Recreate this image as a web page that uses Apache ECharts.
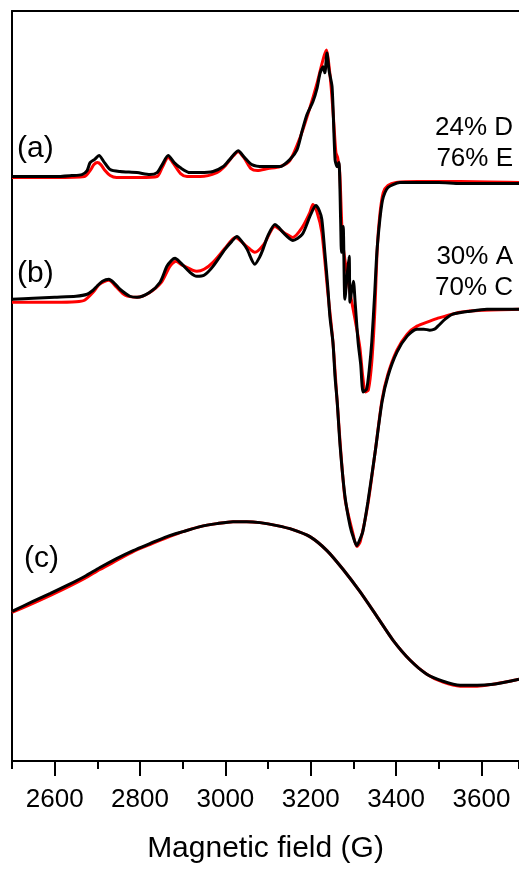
<!DOCTYPE html>
<html>
<head>
<meta charset="utf-8">
<script src="https://cdn.jsdelivr.net/npm/echarts@6/dist/echarts.min.js"></script>
<style>
html,body{margin:0;padding:0;background:#fff;}
#chart{width:519px;height:869px;}
</style>
</head>
<body>
<div id="chart"></div>
<script>
// Magnetic field axis
const fieldMin = 2500;
const fieldMax = 3688;
const tickLabels = [2600, 2800, 3000, 3200, 3400, 3600];

// Trace (a): experimental (black) and simulation (red), intensity in arbitrary units
const aExpField = [2500,2550,2600,2640,2664,2676,2683,2693,2704,2715,2730,2753,2793,2823,2840,2852,2866,2880,2894,2917,2941,2971,2995,3010,3030,3045,3062,3088,3128,3151,3168,3180,3191,3205,3215,3222,3229,3233,3238,3243,3250,3257,3262,3266,3270,3272,3276,3280,3286,3290,3292,3296,3300,3304,3311,3317,3323,3331,3337,3343,3350,3355,3362,3368,3374,3381,3393,3409,3450,3500,3550,3600,3650,3688];
const aExpVal   = [586,586,586,587,588,592,600,603,607,601,593,591,590,588,590,598,607,600,595,590,590,591,596,603,612,605,598,596,596,603,613,632,648,661,675,690,696,690,710,692,676,603,596,600,543,510,536,463,490,506,460,472,481,460,420,398,370,373,392,420,470,510,543,562,570,575,578,580,580,580,579,579,579,579];
const aSimField = [2500,2600,2670,2683,2692,2700,2708,2718,2730,2745,2800,2840,2852,2866,2880,2895,2910,2941,2980,3000,3015,3030,3045,3060,3075,3100,3128,3151,3175,3198,3215,3225,3232,3237,3242,3248,3254,3259,3263,3268,3275,3290,3305,3315,3322,3328,3335,3343,3350,3356,3362,3370,3381,3400,3450,3550,3688];
const aSimVal   = [585,585,586,592,598,600,598,592,587,585,585,586,595,605,598,589,586,586,590,597,605,611,604,594,592,594,596,602,625,655,680,697,708,713,700,675,640,610,605,590,520,475,440,415,385,370,372,400,450,515,548,570,577,580,581,581,580];

// Trace (b)
const bExpField = [2500,2550,2600,2650,2676,2690,2699,2712,2727,2740,2753,2776,2793,2823,2847,2863,2874,2882,2894,2917,2933,2950,2971,2999,3015,3027,3040,3051,3069,3080,3088,3100,3116,3125,3135,3158,3180,3198,3212,3220,3226,3233,3240,3245,3252,3257,3262,3269,3280,3292,3300,3308,3315,3322,3334,3351,3367,3381,3402,3426,3449,3465,3479,3490,3498,3515,3533,3573,3613,3650,3688];
const bExpVal   = [463,464,465,466,468,472,476,481,483,479,473,466,465,470,480,496,502,504,500,490,486,487,496,513,521,526,520,513,498,505,513,527,538,535,530,522,528,546,557,552,543,510,475,445,420,385,360,315,266,236,224,216,222,230,260,310,360,386,410,426,433,433,432,433,436,443,448,451,453,453,453];
const bSimField = [2500,2600,2650,2670,2690,2705,2727,2745,2765,2793,2820,2850,2870,2884,2900,2933,2950,2971,2999,3023,3050,3069,3090,3116,3140,3158,3180,3198,3205,3215,3226,3240,3252,3262,3280,3300,3308,3316,3334,3351,3367,3381,3402,3426,3449,3479,3498,3515,3550,3600,3688];
const bSimVal   = [460,460,460.5,462,470,478,482,475,467,465,469,480,496,501,497,491,493,500,514,525,516,510,518,536,529,525,535,550,558,550,530,470,420,360,264,226,215,220,258,310,362,388,412,428,436,441,444,446,450,452,453];

// Trace (c)
const cField  = [2500,2549,2590,2629,2670,2706,2745,2784,2823,2863,2901,2941,2980,3018,3050,3081,3121,3158,3198,3238,3276,3315,3355,3393,3433,3472,3510,3550,3590,3627,3666,3688];
const cExpVal = [150,160,168,176,185,194,203,211,218,225,230,235,238,240,240,239,236,232,225,211,192,170,145,121,101,87,80,76,76,77,80,82];
const cSimVal = [149,158,166,174,183,192,201,210,217,224,230,235,238,240,240,239,236,232,225,211,192,170,145,121,101,87,79,75,75,77,80,82];

const traceLabels = ['(a)', '(b)', '(c)'];
const aComp = ['24% D', '76% E'];
const bComp = ['30% A', '70% C'];

const FONT = '"Liberation Sans", Arial, sans-serif';
function zip(xs, ys) { return xs.map((x, i) => [x, ys[i]]); }
function line(name, xs, ys, color, z) {
  return {
    name, type: 'line', data: zip(xs, ys), showSymbol: false, smooth: 0.25,
    lineStyle: { color, width: 3 }, itemStyle: { color }, z, silent: true
  };
}

const chart = echarts.init(document.getElementById('chart'), null, { renderer: 'canvas' });
const black = '#000000';
const red = '#ff0000';

function txt(text, x, y, size, align) {
  return {
    type: 'text', x, y, silent: true,
    style: { text, fontSize: size, fontFamily: FONT, fill: '#000',
      align, verticalAlign: 'middle', textAlign: align, textVerticalAlign: 'middle' }
  };
}

chart.setOption({
  animation: false,
  backgroundColor: '#fff',
  grid: { left: 12, right: 0, top: 11, bottom: 106, containLabel: false },
  xAxis: [
    {
      type: 'value', min: fieldMin, max: fieldMax, interval: 100, position: 'bottom',
      axisLine: { show: true, onZero: false, lineStyle: { color: '#000', width: 2 } },
      axisTick: { show: true, length: 8, lineStyle: { color: '#000', width: 2 } },
      axisLabel: { customValues: tickLabels, fontSize: 26, color: '#000', fontFamily: FONT, margin: 26,
        formatter: v => String(v) },
      splitLine: { show: false },
      name: 'Magnetic field (G)', nameLocation: 'middle', nameGap: 73,
      nameTextStyle: { fontSize: 30, color: '#000', fontFamily: FONT }
    },
    {
      type: 'value', min: fieldMin, max: fieldMax, position: 'bottom',
      axisLine: { show: false, onZero: false },
      axisTick: { show: true, customValues: tickLabels, length: 15, lineStyle: { color: '#000', width: 2 } },
      axisLabel: { show: false }, splitLine: { show: false }
    },
    {
      type: 'value', min: fieldMin, max: fieldMax, position: 'top',
      axisLine: { show: true, onZero: false, lineStyle: { color: '#000', width: 2 } },
      axisTick: { show: false }, axisLabel: { show: false }, splitLine: { show: false }
    }
  ],
  yAxis: {
    type: 'value', min: 0, max: 752, position: 'left',
    axisLine: { show: true, onZero: false, lineStyle: { color: '#000', width: 2 } },
    axisTick: { show: false }, axisLabel: { show: false }, splitLine: { show: false }
  },
  series: [
    line('a sim', aSimField, aSimVal, red, 2),
    line('b sim', bSimField, bSimVal, red, 2),
    line('c sim', cField, cSimVal, red, 2),
    line('a exp', aExpField, aExpVal, black, 3),
    line('b exp', bExpField, bExpVal, black, 3),
    line('c exp', cField, cExpVal, black, 3)
  ],
  graphic: [
    txt(traceLabels[0], 17, 149, 30, 'left'),
    txt(traceLabels[1], 17, 274, 30, 'left'),
    txt(traceLabels[2], 24, 559, 30, 'left'),
    txt(aComp[0], 513, 128, 26, 'right'),
    txt(aComp[1], 513, 159, 26, 'right'),
    txt(bComp[0], 513, 257, 26, 'right'),
    txt(bComp[1], 513, 288, 26, 'right')
  ]
});
</script>
</body>
</html>
